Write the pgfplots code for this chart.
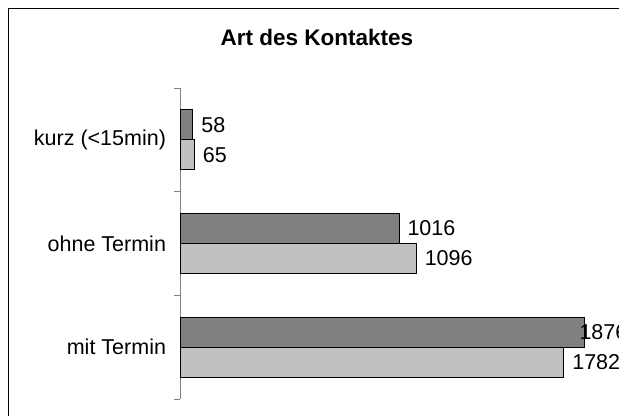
\documentclass[border=0pt]{standalone}
\usepackage{pgfplots}
\usepackage{pgfplotstable}
\pgfplotsset{compat=1.18}
\usepackage{fontspec}
\setmainfont{Liberation Sans}
\definecolor{darkbar}{HTML}{808080}
\definecolor{lightbar}{HTML}{C0C0C0}
\definecolor{axisgray}{HTML}{808080}

\pgfplotstableread{
y x sh
2 58 8
1 1016 8
0 1876 -5
}\darkdata
\pgfplotstableread{
y x sh
2 65 8
1 1096 8
0 1782 8
}\lightdata

\begin{document}
\begin{tikzpicture}[x=1pt,y=1pt]
\clip (0,0) rectangle (619,416);
\fill[white] (0,0) rectangle (619,416);
\draw[line width=1.5pt] (8.5,0) -- (8.5,407.5) -- (619,407.5);
\node[anchor=base, font=\fontsize{22.5}{27}\selectfont\bfseries] at (317,370) {Art des Kontaktes};
\begin{axis}[
  at={(180.5pt,17pt)}, anchor=south west,
  scale only axis,
  width=430.2pt, height=311pt,
  xmin=0, xmax=2000,
  ymin=-0.5, ymax=2.5,
  axis x line=none,
  axis y line*=left,
  y axis line style={axisgray, line width=0.8pt},
  ytick={0,1,2},
  yticklabels={mit Termin, ohne Termin, kurz (<15min)},
  major tick length=0pt,
  extra y ticks={-0.5,0.5,1.5,2.5},
  extra y tick labels={},
  extra y tick style={major tick length=6pt, tick align=outside, tick style={axisgray, line width=0.8pt}},
  yticklabel style={font=\fontsize{21.5}{26}\selectfont, xshift=-11pt},
  xbar, bar width=30pt,
  clip=false,
  /pgf/number format/assume math mode=true,
  /pgf/number format/1000 sep={},
  nodes near coords,
  every node near coord/.append style={font=\fontsize{21.5}{26}\selectfont, anchor=west, inner sep=0pt},
]
\addplot[fill=darkbar, draw=black, line width=1pt, bar shift=15pt,
  visualization depends on={\thisrow{sh} \as \sh},
  every node near coord/.append style={xshift=\sh pt}]
  table[x=x, y=y] {\darkdata};
\addplot[fill=lightbar, draw=black, line width=1pt, bar shift=-15pt,
  visualization depends on={\thisrow{sh} \as \sh},
  every node near coord/.append style={xshift=\sh pt}]
  table[x=x, y=y] {\lightdata};
\end{axis}
\end{tikzpicture}
\end{document}
